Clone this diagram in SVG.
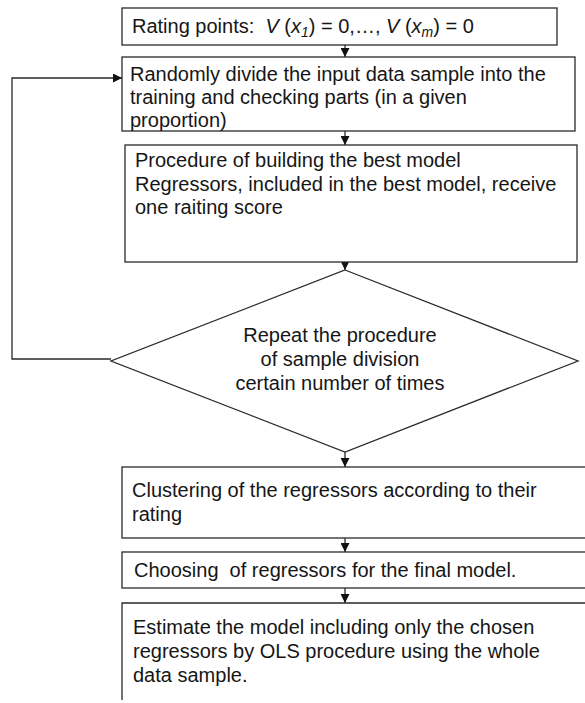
<svg xmlns="http://www.w3.org/2000/svg" width="585" height="703" viewBox="0 0 585 703">
<style>
.box{fill:#fff;stroke:#2a2a2a;stroke-width:1.3}
.ln{fill:none;stroke:#2a2a2a;stroke-width:1.3}
text{font-family:"Liberation Sans",Arial,sans-serif;font-size:20px;fill:#161616;white-space:pre}
.c{text-anchor:middle}
</style>
<defs>
<marker id="ah" viewBox="0 0 10 10" refX="10" refY="5" markerWidth="9" markerHeight="9" markerUnits="userSpaceOnUse" orient="auto">
<path d="M0,0 L10,5 L0,10 Z" fill="#111"/>
</marker>
</defs>
<rect width="585" height="703" fill="#fff"/>
<g id="connectors">
<line class="ln" x1="345" y1="45" x2="345" y2="57" marker-end="url(#ah)"/>
<line class="ln" x1="345" y1="131" x2="345" y2="145" marker-end="url(#ah)"/>
<line class="ln" x1="345" y1="262" x2="345" y2="270" marker-end="url(#ah)"/>
<line class="ln" x1="345" y1="452" x2="345" y2="467" marker-end="url(#ah)"/>
<line class="ln" x1="345" y1="538" x2="345" y2="552" marker-end="url(#ah)"/>
<line class="ln" x1="345" y1="588" x2="345" y2="603" marker-end="url(#ah)"/>
<polyline class="ln" points="111,359 12,359 12,78 122,78" marker-end="url(#ah)"/>
</g>
<g id="n1">
<rect class="box" x="122" y="8" width="435" height="37"/>
<text x="132" y="33" xml:space="preserve">Rating points:  <tspan font-style="italic">V</tspan> (<tspan font-style="italic">x</tspan><tspan font-style="italic" font-size="14" dy="4">1</tspan><tspan dy="-4">) = 0,…, </tspan><tspan font-style="italic">V</tspan> (<tspan font-style="italic">x</tspan><tspan font-style="italic" font-size="14" dy="4">m</tspan><tspan dy="-4">) = 0</tspan></text>
</g>
<g id="n2">
<rect class="box" x="122" y="57" width="453" height="74"/>
<text x="130" y="81">Randomly divide the input data sample into the</text>
<text x="130" y="104">training and checking parts (in a given</text>
<text x="130" y="127">proportion)</text>
</g>
<g id="n3">
<rect class="box" x="125" y="145" width="452" height="117"/>
<text x="135" y="167">Procedure of building the best model</text>
<text x="135" y="191">Regressors, included in the best model, receive</text>
<text x="135" y="214">one raiting score</text>
</g>
<g id="n4">
<polygon class="box" points="345,270 578,361 345,452 111,361"/>
<text class="c" x="340" y="342">Repeat the procedure</text>
<text class="c" x="340" y="366">of sample division</text>
<text class="c" x="340" y="390">certain number of times</text>
</g>
<g id="n5">
<rect class="box" x="122" y="467" width="470" height="71"/>
<text x="132" y="497">Clustering of the regressors according to their</text>
<text x="132" y="521">rating</text>
</g>
<g id="n6">
<rect class="box" x="122" y="552" width="470" height="36"/>
<text x="134" y="577" xml:space="preserve">Choosing  of regressors for the final model.</text>
</g>
<g id="n7">
<path class="ln" d="M592,603 H122 V700"/>
<text x="133" y="634">Estimate the model including only the chosen</text>
<text x="133" y="658">regressors by OLS procedure using the whole</text>
<text x="133" y="682">data sample.</text>
</g>
</svg>
